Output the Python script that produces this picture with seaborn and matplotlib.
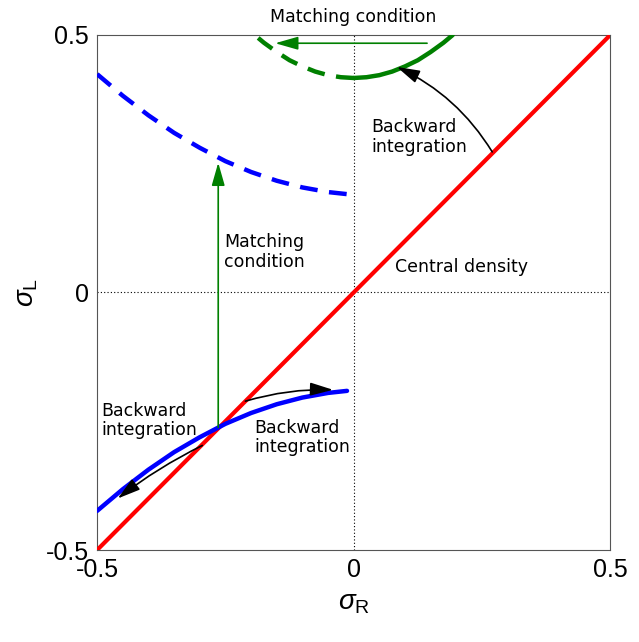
import numpy as np
import pandas as pd
import matplotlib
matplotlib.use('Agg')
import matplotlib.pyplot as plt
import seaborn as sns
from matplotlib.patches import FancyArrowPatch

# values
diag_x = [-0.5, 0.5]
diag_y = [-0.5, 0.5]

blue_x = [-0.5, -0.45, -0.4, -0.35, -0.3, -0.25, -0.2, -0.15, -0.1, -0.05, -0.013]
blue_y = [-0.424, -0.382, -0.344, -0.310, -0.281, -0.255, -0.234, -0.217, -0.204, -0.195, -0.191]
blue_dash_y = [0.424, 0.382, 0.344, 0.310, 0.281, 0.255, 0.234, 0.217, 0.204, 0.195, 0.191]

green_x = [0.0, 0.025, 0.05, 0.075, 0.1, 0.125, 0.15, 0.175, 0.193]
green_y = [0.4165, 0.418, 0.422, 0.429, 0.439, 0.451, 0.467, 0.485, 0.5]
green_dash_x = [0.0, -0.025, -0.05, -0.075, -0.1, -0.125, -0.15, -0.175, -0.193]

ticks = [-0.5, 0, 0.5]
tick_labels = ['-0.5', '0', '0.5']

sns.set_style('white')
plt.rcParams['font.family'] = ['DejaVu Sans']
plt.rcParams['axes.unicode_minus'] = False
plt.rcParams['text.color'] = 'black'
plt.rcParams['axes.labelcolor'] = 'black'
plt.rcParams['xtick.color'] = 'black'
plt.rcParams['ytick.color'] = 'black'
plt.rcParams['mathtext.fontset'] = 'custom'
plt.rcParams['mathtext.rm'] = 'Liberation Sans'
plt.rcParams['mathtext.it'] = 'Liberation Sans:italic'

fig = plt.figure(figsize=(6.39, 6.42), dpi=100)
ax = fig.add_axes([0.152, 0.1433, 0.803, 0.8022])

ax.axhline(0, color='black', lw=0.8, ls=(0, (1, 2)), zorder=1)
ax.axvline(0, color='black', lw=0.8, ls=(0, (1, 2)), zorder=1)

sns.lineplot(x=diag_x, y=diag_y, color='#ff0000', lw=3, ax=ax, zorder=3)
sns.lineplot(x=blue_x, y=blue_y, color='#0000ff', lw=3.2, ax=ax, sort=False, zorder=4)
sns.lineplot(x=blue_x, y=blue_dash_y, color='#0000ff', lw=3.2, ax=ax, sort=False,
             linestyle=(0, (4, 2.6)), zorder=4)
sns.lineplot(x=green_x, y=green_y, color='#008000', lw=3.2, ax=ax, sort=False, zorder=4)
sns.lineplot(x=green_dash_x, y=green_y, color='#008000', lw=3.2, ax=ax, sort=False,
             linestyle=(0, (4, 2.6)), zorder=4)


def arrow(p0, p1, color, lw, rad):
    a = FancyArrowPatch(p0, p1, arrowstyle='-|>,head_length=0.7,head_width=0.2',
                        mutation_scale=20, color=color, lw=lw,
                        connectionstyle=f'arc3,rad={rad}', zorder=5,
                        shrinkA=0, shrinkB=0)
    ax.add_patch(a)


# matching condition arrows
arrow((0.143, 0.484), (-0.153, 0.484), '#008000', 1.2, 0)
arrow((-0.264, -0.262), (-0.264, 0.252), '#008000', 1.2, 0)
# backward integration arrows
arrow((0.27, 0.273), (0.084, 0.438), 'black', 1.2, 0.15)
arrow((-0.211, -0.211), (-0.040, -0.189), 'black', 1.2, -0.08)
arrow((-0.295, -0.297), (-0.460, -0.400), 'black', 1.2, 0.05)

fs = 12.5
ax.text(0.0, 0.535, 'Matching condition', fontsize=fs, ha='center', va='center')
ax.text(0.034, 0.302, 'Backward\nintegration', fontsize=fs, ha='left', va='center',
        linespacing=1.1)
ax.text(-0.252, 0.079, 'Matching\ncondition', fontsize=fs, ha='left', va='center',
        linespacing=1.1)
ax.text(0.081, 0.05, 'Central density', fontsize=fs, ha='left', va='center')
ax.text(-0.492, -0.248, 'Backward\nintegration', fontsize=fs, ha='left', va='center',
        linespacing=1.1)
ax.text(-0.194, -0.281, 'Backward\nintegration', fontsize=fs, ha='left', va='center',
        linespacing=1.1)

ax.set_xlim(-0.5, 0.5)
ax.set_ylim(-0.5, 0.5)
ax.set_xticks(ticks)
ax.set_yticks(ticks)
ax.set_xticklabels(tick_labels, fontfamily='Liberation Sans', fontsize=18)
ax.set_yticklabels(tick_labels, fontfamily='Liberation Sans', fontsize=18)
ax.tick_params(direction='in', length=0, pad=6)
for s in ax.spines.values():
    s.set_color('#555555')
    s.set_linewidth(0.8)

ax.set_xlabel(r'$\sigma_{\mathrm{R}}$', fontsize=20, labelpad=4)
ax.set_ylabel(r'$\sigma_{\mathrm{L}}$', fontsize=20, labelpad=4)

fig.savefig('out.png', dpi=100)
